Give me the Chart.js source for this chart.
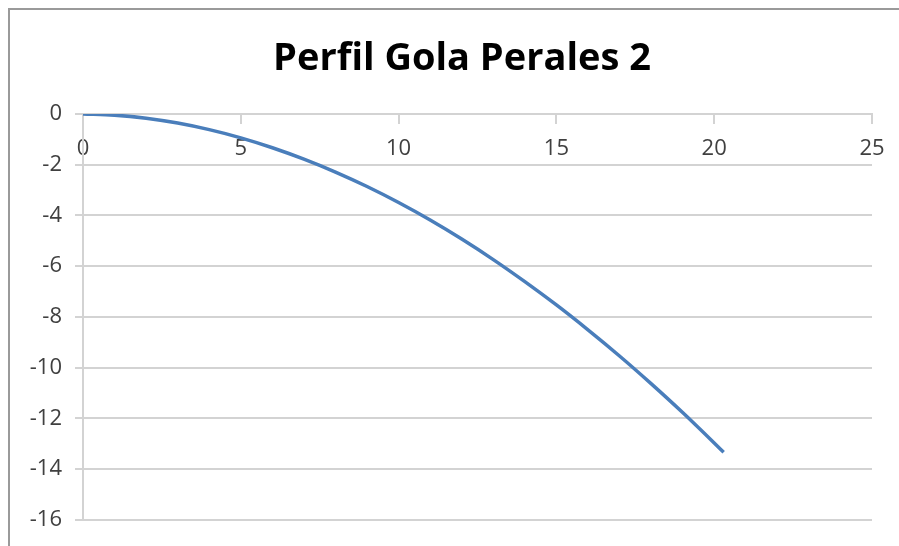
<!DOCTYPE html>
<html>
<head>
<meta charset="utf-8">
<script src="https://cdn.jsdelivr.net/npm/chart.js@4"></script>
<style>
  html, body { margin: 0; padding: 0; background: #ffffff; overflow: hidden; }
  #wrap { position: relative; width: 899px; height: 546px; }
  #frame { position: absolute; left: 8px; top: 8px; width: 1000px; height: 1000px;
           border-left: 2px solid #9a9a9a; border-top: 2px solid #9a9a9a; pointer-events: none; }
  canvas { position: absolute; left: 0; top: 0; }
</style>
</head>
<body>
<div id="wrap">
  <canvas id="chart" width="899" height="546"></canvas>
  <div id="frame"></div>
</div>
<script>
// Profile of the "gola": horizontal distance vs. depth
const chartTitle = 'Perfil Gola Perales 2';
const distance = [0, 1, 2, 3, 4, 5, 6, 7, 8, 9, 10, 11, 12, 13, 14, 15, 16, 17, 18, 19, 20, 20.3];
const depth = [0, -0.045, -0.166, -0.358, -0.617, -0.94, -1.33, -1.78, -2.29, -2.86, -3.49, -4.18, -4.93, -5.74, -6.61, -7.53, -8.51, -9.54, -10.63, -11.77, -12.97, -13.34];
const xTicks = [0, 5, 10, 15, 20, 25];
const yTicks = [0, -2, -4, -6, -8, -10, -12, -14, -16];

const points = distance.map((x, i) => ({ x: x, y: depth[i] }));
const gridGrey = '#d3d3d3';
const labelGrey = '#404040';
const tickFont = { family: 'Open Sans', size: 22 };

// Chart heading, drawn centred above the plot
const headingPlugin = {
  id: 'heading',
  afterDraw(chart) {
    const ctx = chart.ctx;
    ctx.save();
    ctx.font = 'bold 38px "Open Sans"';
    ctx.fillStyle = '#000000';
    ctx.textAlign = 'center';
    ctx.textBaseline = 'alphabetic';
    ctx.fillText(chartTitle, 462, 70);
    ctx.restore();
  }
};

new Chart(document.getElementById('chart'), {
  type: 'scatter',
  data: {
    datasets: [{
      data: points,
      showLine: true,
      borderColor: '#4a7ebb',
      borderWidth: 3.5,
      pointRadius: 0,
      pointHoverRadius: 0,
      cubicInterpolationMode: 'monotone',
      fill: false
    }]
  },
  plugins: [headingPlugin],
  options: {
    responsive: false,
    animation: false,
    events: [],
    layout: { padding: { left: 0, right: 27, top: 114, bottom: 25 } },
    plugins: {
      legend: { display: false },
      tooltip: { enabled: false },
      title: { display: false }
    },
    scales: {
      x: {
        type: 'linear',
        position: { y: 0 },
        min: xTicks[0],
        max: xTicks[xTicks.length - 1],
        afterFit: (s) => { s.height = 0; },
        afterBuildTicks: (s) => { s.ticks = xTicks.map(v => ({ value: v })); },
        ticks: { color: labelGrey, font: tickFont, padding: 13, maxRotation: 0 },
        grid: { drawOnChartArea: false, drawTicks: true, tickLength: 9, color: gridGrey, lineWidth: 2 },
        border: { display: true, color: gridGrey, width: 2 }
      },
      y: {
        type: 'linear',
        position: 'left',
        min: yTicks[yTicks.length - 1],
        max: yTicks[0],
        afterFit: (s) => { s.width = 83; },
        afterBuildTicks: (s) => { s.ticks = yTicks.slice().reverse().map(v => ({ value: v })); },
        ticks: { color: labelGrey, font: tickFont, padding: 13 },
        grid: { drawOnChartArea: true, drawTicks: true, tickLength: 8, color: gridGrey, lineWidth: 2 },
        border: { display: true, color: gridGrey, width: 2 }
      }
    }
  }
});
</script>
</body>
</html>
